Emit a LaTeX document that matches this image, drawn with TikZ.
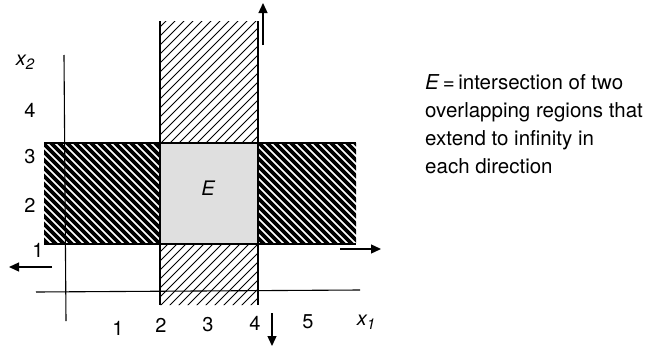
\documentclass[tikz,border=0pt]{standalone}
\usepackage{fontspec}
\setmainfont{TeX Gyre Heros}
\usetikzlibrary{arrows.meta}
\begin{document}
\begin{tikzpicture}[x=1pt,y=-1pt,
  lbl/.style={font=\fontsize{20}{24}\selectfont, inner sep=0pt},
  edge/.style={line width=1.3pt},
  arr/.style={line width=1.3pt,-{Triangle[length=10pt,width=9pt]}}]
\useasboundingbox[fill=white] (0,0) rectangle (650,356);
% grey intersection E
\fill[gray!25] (160,143) rectangle (258,244);
% light hatching of vertical band
\begin{scope}
  \clip (160,21) rectangle (258,143) (160,244) rectangle (258,305);
  \foreach \a in {160,169,...,680} \draw[line width=0.9pt] (\a,0) -- (\a-400,400);
\end{scope}
% dark hatching of horizontal band
\begin{scope}
  \clip (44,143) rectangle (160,244) (258,143) rectangle (356,244);
  \foreach \a in {-260,-252,...,360} \draw[line width=3.8pt] (\a,0) -- (\a+400,400);
\end{scope}
% band edges
\draw[edge] (44,143) -- (356,143);
\draw[edge] (44,244) -- (356,244);
\draw[edge] (160,21) -- (160,305);
\draw[edge] (258,21) -- (258,305);
% axes
\coordinate (ytop) at (64,55);
\coordinate (ybot) at (66,321);
\coordinate (xl) at (36,292);
\coordinate (xr) at (360,290);
\draw[line width=1.1pt] (ytop) -- (ybot);
\draw[line width=1.1pt] (xl) -- (xr);
% arrows
\coordinate (u0) at (263,45); \coordinate (u1) at (263,3);
\coordinate (d0) at (272,313); \coordinate (d1) at (272,346);
\coordinate (r0) at (340,249); \coordinate (r1) at (381,249);
\coordinate (l0) at (52,267); \coordinate (l1) at (9,267);
\draw[arr] (u0) -- (u1);
\draw[arr] (d0) -- (d1);
\draw[arr] (r0) -- (r1);
\draw[arr] (l0) -- (l1);
% labels
\node[lbl] (x2) at (25,62) {\itshape x\raisebox{-0.35ex}{\fontsize{15}{15}\selectfont 2}};
\node[lbl] (y4) at (30,110) {4};
\node[lbl] (y3) at (30,157) {3};
\node[lbl] (y2) at (30,205) {2};
\node[lbl] (y1) at (38,250) {1};
\node[lbl] (n1) at (118,328) {1};
\node[lbl] (n2) at (161,325) {2};
\node[lbl] (n3) at (208,325) {3};
\node[lbl] (n4) at (255,323) {4};
\node[lbl] (n5) at (308,322) {5};
\node[lbl] (x1) at (366,322) {\itshape x\raisebox{-0.35ex}{\fontsize{15}{15}\selectfont 1}};
\node[lbl] (E) at (208,188) {\itshape E};
\node[lbl, anchor=north west, align=left, font=\fontsize{20.5}{28}\selectfont] (desc) at (425,74)
  {\textit{E}\,=\,intersection of two\\overlapping regions that\\extend to infinity in\\each direction};
\end{tikzpicture}
\end{document}
